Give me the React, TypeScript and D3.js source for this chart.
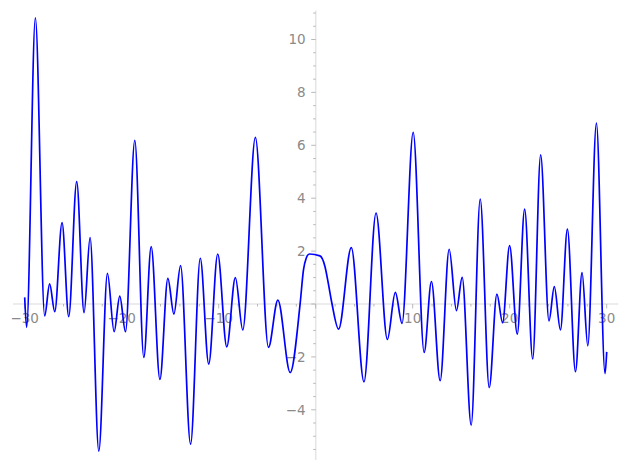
import { useEffect, useRef } from 'react';
import * as d3 from 'd3';

// turning points of the curve
const curveX = [
    -30.0, -29.8, -28.9, -27.94, -27.43, -26.9, -26.15, -25.46, -24.64, -23.88,
    -23.26, -22.36, -21.47, -20.78, -20.2, -19.61, -18.65, -17.72, -16.96, -16.06,
    -15.24, -14.62, -13.93, -12.9, -11.9, -11.03, -10.1, -9.17, -8.28, -7.52,
    -6.22, -4.87, -3.9, -2.63, -1.6, -1.26, -0.98, -0.66, 0.44, 0.96,
    1.3, 1.67, 2.36, 3.67, 4.98, 6.22, 7.39, 8.21, 8.9, 10.05,
    11.18, 11.93, 12.83, 13.76, 14.51, 15.1, 16.03, 16.96, 17.89, 18.68,
    19.27, 19.99, 20.78, 21.54, 22.37, 23.19, 24.05, 24.6, 25.23, 25.95,
    26.78, 27.46, 28.05, 28.94, 29.83, 30.0,
];
const curveY = [
    0.25, -0.88, 10.82, -0.45, 0.76, -0.29, 3.08, -0.48, 4.63, -0.33,
    2.51, -5.56, 1.16, -1.05, 0.30, -1.05, 6.19, -2.02, 2.17, -2.85,
    0.97, -0.38, 1.45, -5.3, 1.73, -2.27, 1.89, -1.62, 1.0, -0.98,
    6.3, -1.64, 0.15, -2.59, 0.03, 1.29, 1.73, 1.89, 1.82, 1.41,
    0.78, 0.03, -0.95, 2.13, -2.94, 3.44, -1.34, 0.44, -0.73, 6.49,
    -1.83, 0.85, -2.9, 2.07, -0.25, 1.01, -4.58, 3.97, -3.16, 0.37,
    -0.71, 2.21, -1.14, 3.59, -2.08, 5.64, -0.64, 0.66, -0.98, 2.83,
    -2.56, 1.19, -1.58, 6.84, -2.63, -1.81,
];

const xMajor = [-30, -20, -10, 0, 10, 20, 30];
const xLabels = ['\u221230', '\u221220', '\u221210', '', '10', '20', '30'];
const yMajor = [-4, -2, 0, 2, 4, 6, 8, 10];
const yLabels = ['\u22124', '\u22122', '', '2', '4', '6', '8', '10'];

const W = 627;
const H = 470;

export default function App() {
    const svgRef = useRef<SVGSVGElement>(null);

    useEffect(() => {
        if (!svgRef.current) return;
        const svg = d3.select(svgRef.current);
        svg.selectAll('*').remove();

        const x = d3.scaleLinear().domain([-30, 30]).range([24.7, 606.7]);
        const y = d3.scaleLinear().domain([0, 10]).range([304, 39.5]);

        const axisColor = '#e6e6e6';
        const tickColor = '#a8a8a8';
        const labelColor = '#8a8a8a';

        // axis lines
        svg.append('line')
            .attr('x1', x(-31.2)).attr('x2', x(31.2))
            .attr('y1', y(0)).attr('y2', y(0))
            .attr('stroke', axisColor).attr('stroke-width', 1.6);
        svg.append('line')
            .attr('x1', x(0)).attr('x2', x(0))
            .attr('y1', y(11.1)).attr('y2', y(-5.9))
            .attr('stroke', axisColor).attr('stroke-width', 1.6);

        // x ticks
        const xMinor = d3.range(-30, 31, 2).filter(v => v % 10 !== 0);
        svg.append('g').selectAll('line')
            .data(xMinor).enter().append('line')
            .attr('x1', d => x(d)).attr('x2', d => x(d))
            .attr('y1', y(0)).attr('y2', y(0) + 2.5)
            .attr('stroke', tickColor).attr('stroke-width', 0.8);
        svg.append('g').selectAll('line')
            .data(xMajor).enter().append('line')
            .attr('x1', d => x(d)).attr('x2', d => x(d))
            .attr('y1', y(0)).attr('y2', y(0) + 4.5)
            .attr('stroke', tickColor).attr('stroke-width', 0.8);
        svg.append('g').selectAll('text')
            .data(xMajor).enter().append('text')
            .attr('x', d => x(d))
            .attr('y', y(0) + 19)
            .attr('text-anchor', 'middle')
            .attr('fill', labelColor)
            .style('font-family', 'DejaVu Sans')
            .style('font-size', '13.5px')
            .text((d, i) => xLabels[i]);

        // y ticks
        const yMinor = d3.range(-5.5, 11.01, 0.5).filter(v => v % 2 !== 0);
        svg.append('g').selectAll('line')
            .data(yMinor).enter().append('line')
            .attr('x1', x(0) - 2.5).attr('x2', x(0))
            .attr('y1', d => y(d)).attr('y2', d => y(d))
            .attr('stroke', tickColor).attr('stroke-width', 0.8);
        svg.append('g').selectAll('line')
            .data(yMajor).enter().append('line')
            .attr('x1', x(0) - 4.5).attr('x2', x(0))
            .attr('y1', d => y(d)).attr('y2', d => y(d))
            .attr('stroke', tickColor).attr('stroke-width', 0.8);
        svg.append('g').selectAll('text')
            .data(yMajor).enter().append('text')
            .attr('x', x(0) - 10)
            .attr('y', d => y(d))
            .attr('dy', '0.36em')
            .attr('text-anchor', 'end')
            .attr('fill', labelColor)
            .style('font-family', 'DejaVu Sans')
            .style('font-size', '13.5px')
            .text((d, i) => yLabels[i]);

        // the curve
        const pts: [number, number][] = curveX.map((v, i) => [v, curveY[i]]);
        const line = d3.line<[number, number]>()
            .x(d => x(d[0]))
            .y(d => y(d[1]))
            .curve(d3.curveMonotoneX);
        svg.append('path')
            .attr('d', line(pts) || '')
            .attr('fill', 'none')
            .attr('stroke', '#0000ff')
            .attr('stroke-width', 1.7);
    }, []);

    return (
        <svg
            ref={svgRef}
            width={W}
            height={H}
            style={{ position: 'absolute', left: 0, top: 0, background: '#fff' }}
        />
    );
}
